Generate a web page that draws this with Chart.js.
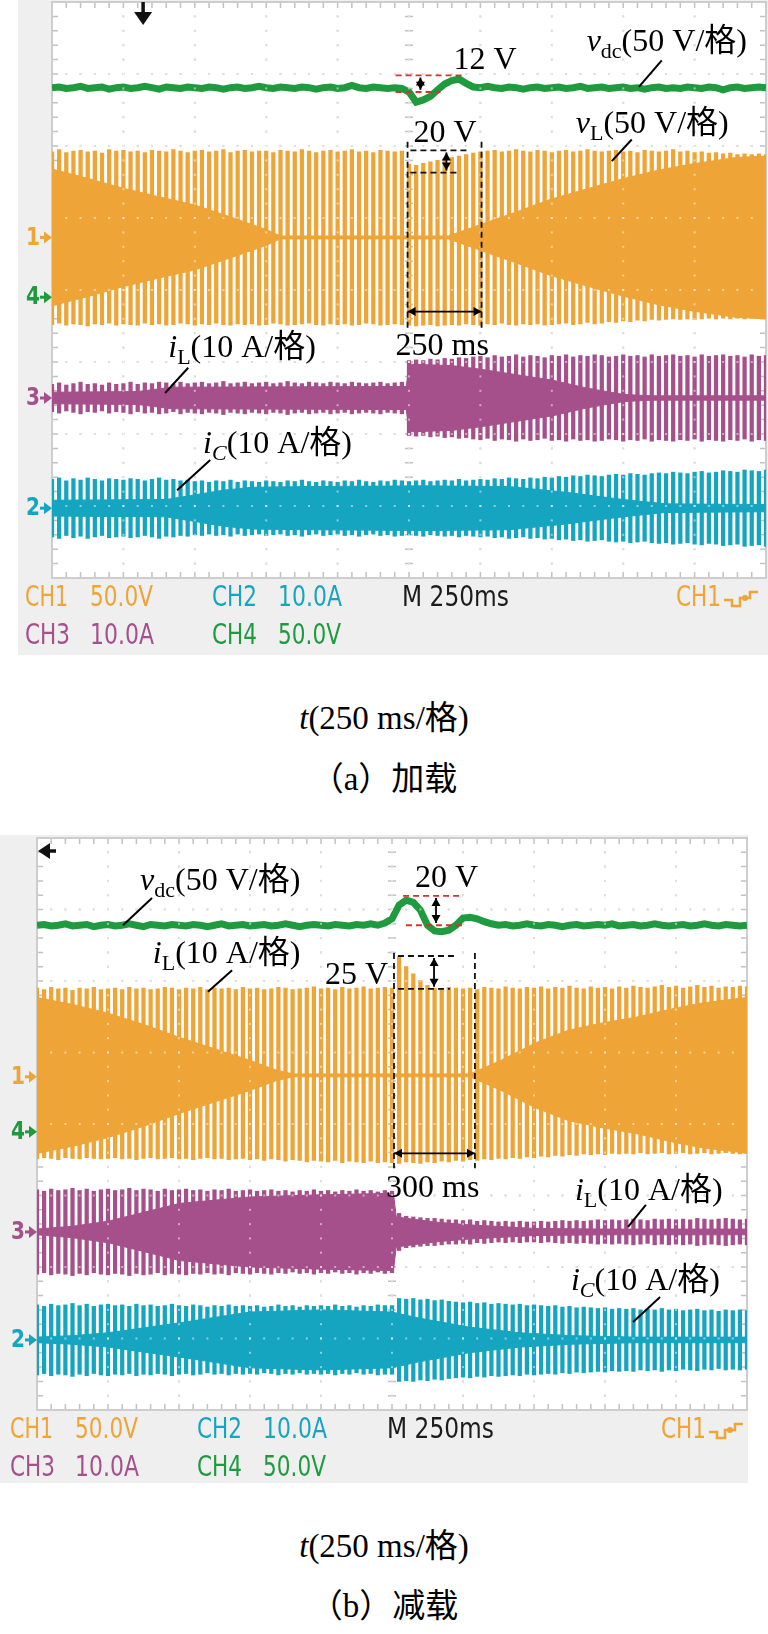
<!DOCTYPE html>
<html>
<head>
<meta charset="utf-8">
<script src="https://cdn.jsdelivr.net/npm/chart.js@4.4.1/dist/chart.umd.min.js"></script>
<style>
  body { margin: 0; width: 768px; height: 1634px; position: relative; overflow: hidden; background: #fff;
         font-family: "Liberation Serif", "Noto Sans CJK SC", serif; }
  .panel { position: absolute; background: #efefef; }
  #grayA { left: 18px; top: 0; width: 750px; height: 655px; }
  #grayB { left: 0; top: 835px; width: 748px; height: 648px; }
  canvas { position: absolute; left: 0; }
  #chartA { top: 0; }
  #chartB { top: 830px; }
  .cap { position: absolute; left: 0; width: 768px; text-align: center; font-size: 33px; line-height: 40px; color: #000; }
</style>
</head>
<body>
<div class="panel" id="grayA"></div>
<div class="panel" id="grayB"></div>
<canvas id="chartA" width="768" height="660"></canvas>
<canvas id="chartB" width="768" height="680"></canvas>
<div class="cap" style="top:698px"><i>t</i>(250 ms/格)</div>
<div class="cap" style="top:759px">（a）加载</div>
<div class="cap" style="top:1526px"><i>t</i>(250 ms/格)</div>
<div class="cap" style="top:1586px">（b）减载</div>

<script>
// x axis: time in ms (250 ms per division), y axis: screen divisions (0..8)
const barTimes = Array.from({ length: 101 }, (_, i) => i * 25);

// ---------- (a) 加载 ----------
const aOrangeCenter = 4.73;
const aOrangeTop = [
  1.19,1.22,1.18,1.20,1.21,1.19,1.20,1.17,1.22,1.20,
  1.21,1.19,1.20,1.18,1.21,1.20,1.19,1.22,1.20,1.18,
  1.20,1.21,1.19,1.20,1.22,1.18,1.20,1.21,1.19,1.20,
  1.20,1.18,1.21,1.20,1.19,1.22,1.20,1.18,1.20,1.21,
  1.19,1.20,1.22,1.19,1.20,1.18,1.21,1.20,1.19,1.20,
  1.02,1.00,1.03,1.05,1.07,1.09,1.11,1.13,1.15,1.17,
  1.19,1.20,1.21,1.19,1.20,1.22,1.20,1.19,1.21,1.20,
  1.18,1.20,1.21,1.19,1.20,1.22,1.20,1.19,1.20,1.21,
  1.19,1.20,1.18,1.21,1.20,1.19,1.20,1.22,1.19,1.20,
  1.18,1.19,1.17,1.18,1.16,1.17,1.15,1.16,1.15,1.16,
  1.15];
const aOrangeBot = [
  1.21,1.19,1.22,1.20,1.21,1.23,1.20,1.21,1.19,1.22,
  1.20,1.21,1.22,1.19,1.21,1.20,1.22,1.21,1.19,1.20,
  1.22,1.20,1.21,1.19,1.21,1.22,1.20,1.21,1.20,1.22,
  1.21,1.19,1.20,1.22,1.21,1.20,1.19,1.21,1.22,1.20,
  1.21,1.20,1.22,1.21,1.19,1.20,1.22,1.21,1.20,1.21,
  1.22,1.23,1.22,1.21,1.23,1.22,1.21,1.22,1.20,1.21,
  1.22,1.20,1.21,1.19,1.21,1.22,1.20,1.21,1.20,1.22,
  1.21,1.20,1.19,1.21,1.20,1.18,1.20,1.19,1.17,1.18,
  1.16,1.17,1.15,1.16,1.14,1.15,1.14,1.13,1.14,1.13,
  1.14,1.13,1.12,1.13,1.12,1.13,1.12,1.13,1.12,1.12,
  1.12];
const aOrangeEnvT = [0,126,252,379,501,628,750,800,1388,1494,1623,1746,1869,1995,2118,2240,2395,2500];
const aOrangeEnv  = [0.95,0.82,0.68,0.56,0.45,0.28,0.11,0.02,0.02,0.17,0.35,0.53,0.67,0.81,0.93,1.02,1.11,1.13];

const aMagentaCenter = 2.50;
const aMagentaAmp = [
  0.19,0.21,0.18,0.20,0.22,0.19,0.20,0.18,0.21,0.19,
  0.20,0.22,0.19,0.21,0.20,0.22,0.21,0.19,0.22,0.20,
  0.21,0.22,0.20,0.21,0.23,0.20,0.21,0.22,0.20,0.21,
  0.22,0.20,0.21,0.23,0.21,0.20,0.22,0.21,0.20,0.22,
  0.21,0.20,0.22,0.21,0.20,0.21,0.22,0.20,0.21,0.22,
  0.52,0.53,0.52,0.54,0.53,0.55,0.54,0.56,0.55,0.57,
  0.58,0.56,0.59,0.57,0.58,0.60,0.57,0.59,0.58,0.56,
  0.59,0.58,0.60,0.57,0.59,0.58,0.60,0.59,0.57,0.58,
  0.60,0.58,0.59,0.57,0.60,0.58,0.59,0.60,0.58,0.59,
  0.57,0.60,0.58,0.59,0.60,0.58,0.59,0.57,0.60,0.58,
  0.59];
const aMagentaEnvT = [0,300,420,1240,1252,1400,1500,1750,1870,2000,2100,2500];
const aMagentaEnv  = [0.08,0.09,0.15,0.16,0.47,0.45,0.40,0.25,0.14,0.05,0.03,0.03];

const aCyanCenter = 0.97;
const aCyanAmp = [
  0.40,0.42,0.38,0.41,0.39,0.42,0.40,0.38,0.41,0.40,
  0.39,0.41,0.40,0.38,0.40,0.42,0.39,0.40,0.38,0.39,
  0.37,0.38,0.36,0.38,0.37,0.39,0.36,0.38,0.37,0.36,
  0.38,0.37,0.36,0.38,0.37,0.39,0.37,0.36,0.38,0.37,
  0.36,0.38,0.37,0.39,0.37,0.36,0.38,0.37,0.39,0.38,
  0.37,0.38,0.39,0.37,0.38,0.39,0.38,0.40,0.38,0.39,
  0.40,0.39,0.41,0.40,0.42,0.41,0.40,0.42,0.41,0.43,
  0.42,0.44,0.43,0.45,0.44,0.46,0.45,0.44,0.46,0.47,
  0.46,0.48,0.47,0.46,0.48,0.49,0.48,0.50,0.49,0.48,
  0.50,0.51,0.49,0.50,0.52,0.51,0.50,0.53,0.52,0.51,
  0.53];
const aCyanEnvT = [0,400,600,700,900,1300,1600,1800,2000,2150,2500];
const aCyanEnv  = [0.11,0.12,0.25,0.29,0.30,0.31,0.30,0.22,0.12,0.06,0.05];

const aGreen = [
  6.81,6.82,6.80,6.81,6.83,6.80,6.81,6.82,6.79,6.81,
  6.82,6.80,6.81,6.83,6.81,6.79,6.82,6.81,6.80,6.82,
  6.81,6.80,6.82,6.81,6.79,6.81,6.82,6.80,6.81,6.83,
  6.81,6.80,6.82,6.81,6.80,6.82,6.81,6.79,6.81,6.82,
  6.80,6.81,6.84,6.81,6.80,6.82,6.81,6.80,6.81,6.80,
  6.75,6.61,6.64,6.69,6.78,6.86,6.91,6.93,6.87,6.82,
  6.81,6.83,6.81,6.80,6.82,6.81,6.79,6.81,6.82,6.80,
  6.81,6.82,6.80,6.81,6.83,6.80,6.81,6.82,6.80,6.81,
  6.82,6.80,6.81,6.79,6.81,6.82,6.80,6.81,6.80,6.82,
  6.81,6.80,6.82,6.81,6.78,6.81,6.82,6.80,6.81,6.82,
  6.81];

// ---------- (b) 减载 ----------
const bOrangeCenter = 4.68;
const bOrangeTop = [
  1.22,1.20,1.23,1.21,1.22,1.19,1.22,1.21,1.23,1.20,
  1.21,1.22,1.20,1.23,1.21,1.22,1.20,1.21,1.23,1.22,
  1.20,1.22,1.21,1.23,1.20,1.22,1.21,1.22,1.20,1.23,
  1.21,1.22,1.20,1.21,1.23,1.22,1.20,1.21,1.22,1.24,
  1.21,1.22,1.20,1.23,1.21,1.22,1.24,1.21,1.22,1.23,
  1.22,1.66,1.52,1.42,1.33,1.26,1.22,1.21,1.23,1.22,
  1.21,1.22,1.20,1.23,1.22,1.21,1.24,1.22,1.21,1.23,
  1.22,1.24,1.21,1.23,1.22,1.25,1.22,1.21,1.24,1.22,
  1.23,1.21,1.24,1.22,1.25,1.23,1.22,1.24,1.26,1.23,
  1.25,1.22,1.24,1.26,1.23,1.25,1.22,1.24,1.23,1.25,
  1.24];
const bOrangeBot = [
  1.17,1.15,1.16,1.18,1.15,1.16,1.17,1.15,1.16,1.17,
  1.16,1.15,1.17,1.16,1.18,1.16,1.15,1.17,1.16,1.15,
  1.17,1.16,1.18,1.16,1.15,1.17,1.16,1.18,1.17,1.16,
  1.18,1.17,1.19,1.17,1.18,1.20,1.18,1.19,1.21,1.19,
  1.20,1.21,1.19,1.22,1.20,1.21,1.22,1.20,1.22,1.21,
  1.22,1.23,1.21,1.22,1.23,1.21,1.22,1.20,1.21,1.19,
  1.20,1.18,1.19,1.17,1.18,1.16,1.17,1.15,1.16,1.14,
  1.15,1.13,1.14,1.12,1.13,1.11,1.12,1.10,1.11,1.10,
  1.11,1.09,1.10,1.09,1.10,1.08,1.10,1.09,1.08,1.10,
  1.09,1.08,1.10,1.09,1.08,1.10,1.09,1.08,1.09,1.10,
  1.09];
const bOrangeEnvT = [0,127,250,377,503,627,750,838,901,1525,1553,1634,1753,1870,1986,2106,2246,2338,2500];
const bOrangeEnv  = [1.09,0.99,0.87,0.71,0.53,0.37,0.21,0.08,0.02,0.02,0.07,0.21,0.45,0.63,0.73,0.81,0.94,1.01,1.09];

const bMagentaCenter = 2.49;
const bMagentaAmp = [
  0.59,0.57,0.60,0.58,0.59,0.61,0.58,0.60,0.57,0.59,
  0.60,0.58,0.59,0.61,0.58,0.60,0.59,0.57,0.60,0.58,
  0.59,0.60,0.58,0.59,0.57,0.59,0.58,0.60,0.57,0.58,
  0.59,0.57,0.58,0.59,0.57,0.58,0.56,0.58,0.57,0.59,
  0.57,0.58,0.56,0.58,0.57,0.59,0.57,0.58,0.56,0.58,
  0.57,0.26,0.22,0.21,0.20,0.19,0.19,0.18,0.17,0.17,
  0.16,0.17,0.15,0.16,0.15,0.14,0.15,0.14,0.15,0.14,
  0.14,0.15,0.14,0.15,0.16,0.15,0.16,0.15,0.16,0.17,
  0.16,0.17,0.16,0.17,0.18,0.17,0.16,0.18,0.17,0.18,
  0.17,0.18,0.17,0.19,0.18,0.17,0.18,0.19,0.18,0.17,
  0.18];
const bMagentaEnvT = [0,127,250,503,750,1000,1255,1265,1400,1520,1750,2000,2500];
const bMagentaEnv  = [0.04,0.08,0.15,0.40,0.49,0.52,0.54,0.21,0.14,0.10,0.05,0.04,0.04];

const bCyanCenter = 0.98;
const bCyanAmp = [
  0.49,0.47,0.50,0.48,0.49,0.51,0.48,0.50,0.47,0.49,
  0.50,0.48,0.49,0.47,0.50,0.48,0.49,0.47,0.48,0.50,
  0.48,0.47,0.49,0.48,0.46,0.48,0.47,0.49,0.47,0.48,
  0.47,0.48,0.46,0.47,0.49,0.47,0.48,0.46,0.48,0.47,
  0.48,0.47,0.49,0.47,0.48,0.46,0.48,0.47,0.49,0.48,
  0.48,0.58,0.57,0.58,0.56,0.57,0.55,0.56,0.54,0.53,
  0.52,0.53,0.51,0.52,0.50,0.51,0.50,0.49,0.50,0.48,
  0.49,0.48,0.47,0.48,0.46,0.47,0.45,0.46,0.45,0.44,
  0.45,0.43,0.44,0.43,0.44,0.42,0.43,0.42,0.44,0.42,
  0.43,0.41,0.42,0.43,0.41,0.42,0.40,0.42,0.41,0.42,
  0.41];
const bCyanEnvT = [0,127,250,503,750,1000,1250,1340,1520,1700,1880,2100,2500];
const bCyanEnv  = [0.04,0.06,0.10,0.24,0.39,0.42,0.39,0.31,0.18,0.10,0.06,0.04,0.04];

const bGreen = [
  6.78,6.79,6.77,6.78,6.80,6.77,6.78,6.79,6.76,6.78,
  6.79,6.77,6.78,6.80,6.78,6.76,6.79,6.78,6.77,6.79,
  6.78,6.77,6.79,6.78,6.76,6.78,6.80,6.77,6.78,6.79,
  6.77,6.78,6.79,6.77,6.78,6.80,6.78,6.76,6.78,6.79,
  6.78,6.77,6.79,6.78,6.77,6.79,6.78,6.80,6.78,6.81,
  6.87,7.06,7.13,7.10,6.99,6.78,6.70,6.69,6.71,6.78,
  6.88,6.89,6.87,6.83,6.80,6.78,6.79,6.77,6.78,6.80,
  6.78,6.77,6.79,6.78,6.76,6.78,6.79,6.77,6.78,6.79,
  6.78,6.80,6.77,6.78,6.79,6.77,6.78,6.80,6.78,6.77,
  6.78,6.79,6.77,6.78,6.80,6.78,6.77,6.79,6.78,6.77,
  6.78];

// scope colours
const ORANGE = '#eea436';
const GREEN = '#1f9a3e';
const MAGENTA = '#a6508b';
const CYAN = '#16a5c0';

const SERIF = '"Liberation Serif", "Noto Sans CJK SC"';

// annotations, positions in (ms, div)
const notesA = [
  { kind: 'text', t: 1872, v: 7.32, parts: [['v', 'i'], ['dc', 'sub'], ['(50 V/格)']] },
  { kind: 'line', from: [2135, 7.19], to: [2055, 6.82] },
  { kind: 'text', t: 1834, v: 6.18, parts: [['v', 'i'], ['L', 'sub'], ['(50 V/格)']] },
  { kind: 'line', from: [2030, 6.09], to: [1960, 5.79] },
  { kind: 'text', t: 1406, v: 7.07, parts: [['12 V']] },
  { kind: 'dash', color: '#d8322e', from: [1203, 6.98], to: [1448, 6.98] },
  { kind: 'dash', color: '#d8322e', from: [1203, 6.75], to: [1360, 6.75] },
  { kind: 'arrow', from: [1290, 6.95], to: [1290, 6.78] },
  { kind: 'text', t: 1266, v: 6.05, parts: [['20 V']] },
  { kind: 'dash', color: '#111', from: [1255, 5.94], to: [1452, 5.94] },
  { kind: 'dash', color: '#111', from: [1255, 5.63], to: [1423, 5.63] },
  { kind: 'arrow', from: [1381, 5.91], to: [1381, 5.66] },
  { kind: 'dash', color: '#111', from: [1245, 6.06], to: [1245, 3.45] },
  { kind: 'dash', color: '#111', from: [1504, 6.06], to: [1504, 3.45] },
  { kind: 'arrow', from: [1245, 3.70], to: [1504, 3.70] },
  { kind: 'text', t: 1203, v: 3.10, parts: [['250 ms']] },
  { kind: 'text', t: 407, v: 3.07, parts: [['i', 'i'], ['L', 'sub'], ['(10 A/格)']] },
  { kind: 'line', from: [477, 2.92], to: [396, 2.57] },
  { kind: 'text', t: 529, v: 1.74, parts: [['i', 'i'], ['C', 'subi'], ['(10 A/格)']] },
  { kind: 'line', from: [554, 1.64], to: [438, 1.22] }
];
const notesB = [
  { kind: 'text', t: 363, v: 7.27, parts: [['v', 'i'], ['dc', 'sub'], ['(50 V/格)']] },
  { kind: 'line', from: [405, 7.16], to: [303, 6.78] },
  { kind: 'text', t: 408, v: 6.25, parts: [['i', 'i'], ['L', 'sub'], ['(10 A/格)']] },
  { kind: 'line', from: [687, 6.15], to: [602, 5.85] },
  { kind: 'text', t: 1014, v: 5.96, parts: [['25 V']] },
  { kind: 'text', t: 1331, v: 7.31, parts: [['20 V']] },
  { kind: 'dash', color: '#d8322e', from: [1289, 7.19], to: [1500, 7.19] },
  { kind: 'dash', color: '#d8322e', from: [1299, 6.78], to: [1507, 6.78] },
  { kind: 'arrow', from: [1405, 7.16], to: [1405, 6.81] },
  { kind: 'dash', color: '#111', from: [1271, 6.35], to: [1475, 6.35] },
  { kind: 'dash', color: '#111', from: [1271, 5.89], to: [1454, 5.89] },
  { kind: 'arrow', from: [1398, 6.32], to: [1398, 5.92] },
  { kind: 'dash', color: '#111', from: [1257, 6.39], to: [1257, 3.38] },
  { kind: 'dash', color: '#111', from: [1542, 6.39], to: [1542, 3.38] },
  { kind: 'arrow', from: [1257, 3.59], to: [1542, 3.59] },
  { kind: 'text', t: 1229, v: 2.98, parts: [['300 ms']] },
  { kind: 'text', t: 1894, v: 2.94, parts: [['i', 'i'], ['L', 'sub'], ['(10 A/格)']] },
  { kind: 'line', from: [2144, 2.87], to: [2081, 2.56] },
  { kind: 'text', t: 1880, v: 1.68, parts: [['i', 'i'], ['C', 'subi'], ['(10 A/格)']] },
  { kind: 'line', from: [2194, 1.58], to: [2099, 1.23] }
];

function bars(color, center, up, down) {
  return {
    type: 'bar', grouped: false, barThickness: 3.6, borderWidth: 0, backgroundColor: color,
    data: barTimes.map((t, i) => ({ x: t, y: [center - down[i], center + up[i]] }))
  };
}

function envelope(color, center, times, half) {
  return [
    { type: 'line', data: times.map((t, i) => ({ x: t, y: center + half[i] })),
      borderColor: color, borderWidth: 1, pointRadius: 0, fill: false },
    { type: 'line', data: times.map((t, i) => ({ x: t, y: center - half[i] })),
      borderColor: color, borderWidth: 1, pointRadius: 0, fill: '-1', backgroundColor: color }
  ];
}

function trace(color, values) {
  return { type: 'line', data: barTimes.map((t, i) => ({ x: t, y: values[i] })),
           borderColor: color, borderWidth: 7, pointRadius: 0, fill: false };
}

// dotted scope graticule
function drawGrid(chart, overlay) {
  const { ctx, chartArea: a, scales: { x, y } } = chart;
  ctx.save();
  if (!overlay) {
    ctx.fillStyle = '#fff';
    ctx.fillRect(a.left, a.top, a.width, a.height);
  }
  ctx.fillStyle = overlay ? 'rgba(255,255,255,0.5)' : '#bdbdbd';
  for (let d = 1; d < 10; d++) {
    const gx = x.getPixelForValue(d * 250);
    for (let k = 1; k < 40; k++) {
      const gy = y.getPixelForValue(k * 0.2);
      ctx.fillRect(gx - 1, gy - 1, 2, 2);
    }
  }
  for (let d = 1; d < 8; d++) {
    const gy = y.getPixelForValue(d);
    for (let k = 1; k < 50; k++) {
      const gx = x.getPixelForValue(k * 50);
      ctx.fillRect(gx - 1, gy - 1, 2, 2);
    }
  }
  if (!overlay) {
    ctx.strokeStyle = '#c2c2c2';
    ctx.lineWidth = 1.5;
    ctx.beginPath();
    for (let k = 1; k < 50; k++) {
      const gx = x.getPixelForValue(k * 50);
      ctx.moveTo(gx, a.top); ctx.lineTo(gx, a.top + 6);
      ctx.moveTo(gx, a.bottom); ctx.lineTo(gx, a.bottom - 6);
      const cy = y.getPixelForValue(4);
      ctx.moveTo(gx, cy - 4); ctx.lineTo(gx, cy + 4);
    }
    for (let k = 1; k < 40; k++) {
      const gy = y.getPixelForValue(k * 0.2);
      ctx.moveTo(a.left, gy); ctx.lineTo(a.left + 6, gy);
      ctx.moveTo(a.right, gy); ctx.lineTo(a.right - 6, gy);
      const cx = x.getPixelForValue(1250);
      ctx.moveTo(cx - 4, gy); ctx.lineTo(cx + 4, gy);
    }
    ctx.stroke();
    ctx.strokeStyle = '#cdcdcd';
    ctx.lineWidth = 2;
    ctx.strokeRect(a.left, a.top, a.width, a.height);
  }
  ctx.restore();
}

function arrowHead(ctx, x1, y1, x2, y2) {
  const ang = Math.atan2(y2 - y1, x2 - x1);
  const L = 8, W = 4.5;
  ctx.beginPath();
  ctx.moveTo(x2, y2);
  ctx.lineTo(x2 - L * Math.cos(ang) + W * Math.sin(ang), y2 - L * Math.sin(ang) - W * Math.cos(ang));
  ctx.lineTo(x2 - L * Math.cos(ang) - W * Math.sin(ang), y2 - L * Math.sin(ang) + W * Math.cos(ang));
  ctx.closePath();
  ctx.fill();
}

function drawParts(ctx, x0, y0, parts) {
  let cx = x0;
  for (const [txt, kind = ''] of parts) {
    const sub = kind.startsWith('sub');
    const ital = kind === 'i' || kind === 'subi';
    ctx.font = `${ital ? 'italic ' : ''}${sub ? 22 : 32}px ${SERIF}`;
    ctx.fillText(txt, cx, y0 + (sub ? 7 : 0));
    cx += ctx.measureText(txt).width;
  }
}

function drawNotes(chart, notes) {
  const { ctx, scales: { x, y } } = chart;
  const P = ([t, v]) => [x.getPixelForValue(t), y.getPixelForValue(v)];
  ctx.save();
  ctx.fillStyle = '#000';
  ctx.strokeStyle = '#000';
  ctx.textBaseline = 'alphabetic';
  for (const n of notes) {
    if (n.kind === 'text') {
      drawParts(ctx, x.getPixelForValue(n.t), y.getPixelForValue(n.v), n.parts);
    } else if (n.kind === 'line') {
      const [x1, y1] = P(n.from), [x2, y2] = P(n.to);
      ctx.lineWidth = 2; ctx.setLineDash([]);
      ctx.beginPath(); ctx.moveTo(x1, y1); ctx.lineTo(x2, y2); ctx.stroke();
    } else if (n.kind === 'dash') {
      const [x1, y1] = P(n.from), [x2, y2] = P(n.to);
      ctx.strokeStyle = n.color; ctx.lineWidth = 1.8; ctx.setLineDash([6, 4]);
      ctx.beginPath(); ctx.moveTo(x1, y1); ctx.lineTo(x2, y2); ctx.stroke();
      ctx.strokeStyle = '#000'; ctx.setLineDash([]);
    } else if (n.kind === 'arrow') {
      const [x1, y1] = P(n.from), [x2, y2] = P(n.to);
      ctx.lineWidth = 1.8; ctx.setLineDash([]);
      ctx.beginPath(); ctx.moveTo(x1, y1); ctx.lineTo(x2, y2); ctx.stroke();
      arrowHead(ctx, x1, y1, x2, y2);
      arrowHead(ctx, x2, y2, x1, y1);
    }
  }
  ctx.restore();
}

// channel markers, trigger arrow and status line of the scope
function drawScopeText(chart, cfg) {
  const { ctx, chartArea: a, scales: { x, y } } = chart;
  ctx.save();
  ctx.textBaseline = 'middle';
  for (const [label, color, v] of cfg.markers) {
    const my = y.getPixelForValue(v);
    ctx.fillStyle = color; ctx.strokeStyle = color;
    ctx.font = 'bold 24px "DejaVu Sans"';
    ctx.textAlign = 'right';
    ctx.fillText(label, a.left - 12, my + 1, 14);
    ctx.lineWidth = 3;
    ctx.beginPath(); ctx.moveTo(a.left - 12, my); ctx.lineTo(a.left - 5, my); ctx.stroke();
    ctx.beginPath(); ctx.moveTo(a.left - 8, my - 6); ctx.lineTo(a.left, my); ctx.lineTo(a.left - 8, my + 6); ctx.fill();
  }
  ctx.textAlign = 'left';
  ctx.font = '29px "DejaVu Sans"';
  for (const [txt, dx, row, w, color] of cfg.status) {
    ctx.fillStyle = color;
    ctx.fillText(txt, a.left + dx, a.bottom + (row ? 58 : 20), w);
  }
  // trigger icon after the right CH1
  const ix = a.left + cfg.iconDx, iy = a.bottom + 21;
  ctx.strokeStyle = ORANGE; ctx.fillStyle = ORANGE; ctx.lineWidth = 2.5;
  ctx.beginPath();
  ctx.moveTo(ix, iy + 1); ctx.lineTo(ix + 8, iy + 1); ctx.lineTo(ix + 8, iy + 7); ctx.lineTo(ix + 16, iy + 7);
  ctx.lineTo(ix + 16, iy - 1); ctx.lineTo(ix + 26, iy - 1); ctx.lineTo(ix + 26, iy - 7); ctx.lineTo(ix + 34, iy - 7);
  ctx.stroke();
  ctx.beginPath(); ctx.arc(ix + 21, iy - 1, 3, 0, Math.PI * 2); ctx.fill();
  // trigger position arrow
  ctx.fillStyle = '#111'; ctx.strokeStyle = '#111';
  if (cfg.trigger === 'down') {
    const tx = x.getPixelForValue(cfg.triggerT);
    ctx.lineWidth = 3.5;
    ctx.beginPath(); ctx.moveTo(tx, a.top); ctx.lineTo(tx, a.top + 14); ctx.stroke();
    ctx.beginPath(); ctx.moveTo(tx - 9, a.top + 10); ctx.lineTo(tx + 9, a.top + 10); ctx.lineTo(tx, a.top + 23); ctx.fill();
  } else {
    const ty = a.top + 13;
    ctx.lineWidth = 3.5;
    ctx.beginPath(); ctx.moveTo(a.left + 10, ty); ctx.lineTo(a.left + 19, ty); ctx.stroke();
    ctx.beginPath(); ctx.moveTo(a.left + 13, ty - 8); ctx.lineTo(a.left + 13, ty + 8); ctx.lineTo(a.left + 1, ty); ctx.fill();
  }
  ctx.restore();
}

function makePanel(canvasId, padding, datasets, notes, cfg) {
  const scopePlugin = {
    id: 'scope',
    beforeDatasetsDraw(chart) { drawGrid(chart, false); },
    afterDatasetsDraw(chart) {
      drawGrid(chart, true);
      drawNotes(chart, notes);
      drawScopeText(chart, cfg);
    }
  };
  return new Chart(document.getElementById(canvasId), {
    type: 'bar',
    data: { datasets },
    options: {
      responsive: false,
      animation: false,
      devicePixelRatio: 1,
      layout: { padding },
      scales: {
        x: { type: 'linear', min: 0, max: 2500, display: false, offset: false },
        y: { type: 'linear', min: 0, max: 8, display: false }
      },
      elements: { line: { tension: 0 } },
      plugins: { legend: { display: false }, tooltip: { enabled: false } }
    },
    plugins: [scopePlugin]
  });
}

const statusRows = [
  ['CH1', -27, 0, 43, ORANGE], ['50.0V', 38, 0, 63, ORANGE],
  ['CH2', 160, 0, 45, CYAN], ['10.0A', 226, 0, 64, CYAN],
  ['M 250ms', 350, 0, 107, '#1b1b1b'], ['CH1', 624, 0, 45, ORANGE],
  ['CH3', -27, 1, 45, MAGENTA], ['10.0A', 38, 1, 64, MAGENTA],
  ['CH4', 160, 1, 45, GREEN], ['50.0V', 226, 1, 63, GREEN]
];

makePanel('chartA', { left: 52, right: 2, top: 2, bottom: 82 }, [
  trace(GREEN, aGreen),
  ...envelope(ORANGE, aOrangeCenter, aOrangeEnvT, aOrangeEnv),
  bars(ORANGE, aOrangeCenter, aOrangeTop, aOrangeBot),
  ...envelope(MAGENTA, aMagentaCenter, aMagentaEnvT, aMagentaEnv),
  bars(MAGENTA, aMagentaCenter, aMagentaAmp, aMagentaAmp),
  ...envelope(CYAN, aCyanCenter, aCyanEnvT, aCyanEnv),
  bars(CYAN, aCyanCenter, aCyanAmp, aCyanAmp)
], notesA, {
  markers: [['1', ORANGE, 4.73], ['4', GREEN, 3.90], ['3', MAGENTA, 2.50], ['2', CYAN, 0.97]],
  status: statusRows, iconDx: 672, trigger: 'down', triggerT: 319
});

makePanel('chartB', { left: 37, right: 21, top: 8, bottom: 100 }, [
  trace(GREEN, bGreen),
  ...envelope(ORANGE, bOrangeCenter, bOrangeEnvT, bOrangeEnv),
  bars(ORANGE, bOrangeCenter, bOrangeTop, bOrangeBot),
  ...envelope(MAGENTA, bMagentaCenter, bMagentaEnvT, bMagentaEnv),
  bars(MAGENTA, bMagentaCenter, bMagentaAmp, bMagentaAmp),
  ...envelope(CYAN, bCyanCenter, bCyanEnvT, bCyanEnv),
  bars(CYAN, bCyanCenter, bCyanAmp, bCyanAmp)
], notesB, {
  markers: [['1', ORANGE, 4.66], ['4', GREEN, 3.89], ['3', MAGENTA, 2.49], ['2', CYAN, 0.98]],
  status: statusRows, iconDx: 672, trigger: 'left'
});
</script>
</body>
</html>
